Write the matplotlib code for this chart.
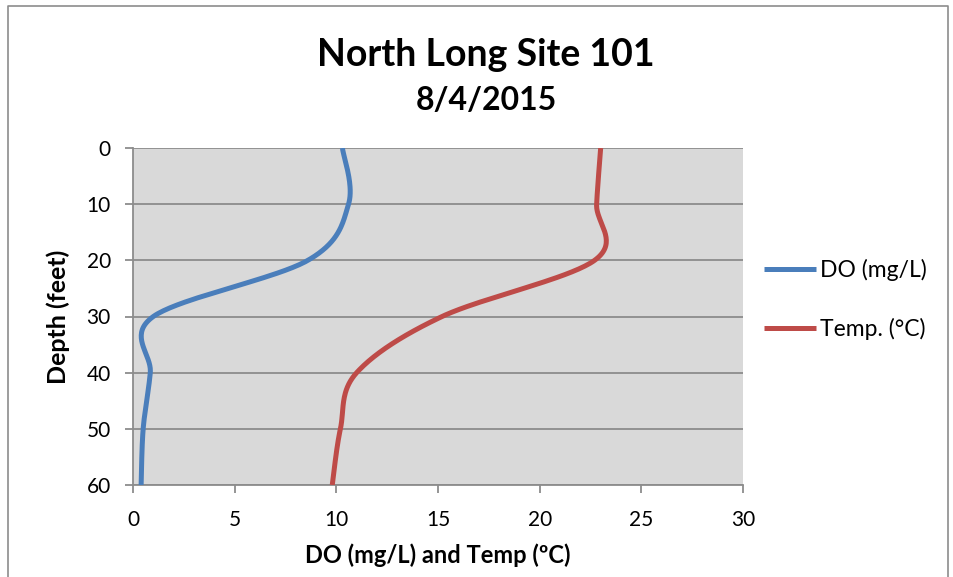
import numpy as np
import matplotlib
matplotlib.use('Agg')
import matplotlib.pyplot as plt
from matplotlib.lines import Line2D

plt.rcParams['font.family'] = ['Lato', 'DejaVu Sans']

depth = [0, 10, 20, 30, 40, 50, 60]
do_mgl = [10.3, 10.6, 8.6, 1.0, 0.85, 0.5, 0.4]
temp_c = [23.0, 22.8, 22.7, 15.2, 11.0, 10.2, 9.8]

xticks = [0, 5, 10, 15, 20, 25, 30]
yticks = [0, 10, 20, 30, 40, 50, 60]


def smooth(xs, ys, n=40):
    # excel style smoothed line (bezier through the points)
    p = np.column_stack([xs, ys]).astype(float)
    p = np.vstack([p[0], p, p[-1]])
    out = []
    t = np.linspace(0, 1, n)[:, None]
    for i in range(1, len(p) - 2):
        a, b = p[i], p[i + 1]
        c1 = a + (p[i + 1] - p[i - 1]) / 6
        c2 = b - (p[i + 2] - p[i]) / 6
        seg = (1 - t) ** 3 * a + 3 * (1 - t) ** 2 * t * c1 + 3 * (1 - t) * t ** 2 * c2 + t ** 3 * b
        out.append(seg if i == 1 else seg[1:])
    out = np.vstack(out)
    return out[:, 0], out[:, 1]


fig = plt.figure(figsize=(9.54, 5.77), dpi=100)
ax = fig.add_axes([133 / 954, 1 - 485 / 577, 610 / 954, 337 / 577])
ax.set_facecolor('#D9D9D9')

# outer chart frame
fig.add_artist(Line2D([8 / 954, 8 / 954, 948 / 954, 948 / 954], [0, 1 - 6 / 577, 1 - 6 / 577, 0],
                      transform=fig.transFigure, color='#8C8C8C', lw=1.2))

gx, gy = smooth(do_mgl, depth)
ax.plot(gx, gy, color='#4A7EBB', lw=3.6, solid_capstyle='butt', label='DO (mg/L)', zorder=3)
tx, ty = smooth(temp_c, depth)
ax.plot(tx, ty, color='#BE4B48', lw=3.6, solid_capstyle='butt', label='Temp. (°C)', zorder=3)

ax.set_xlim(0, 30)
ax.set_ylim(60, 0)
ax.set_xticks(xticks)
ax.set_yticks(yticks)
ax.grid(axis='y', color='#8C8C8C', lw=1.3)
ax.set_axisbelow(True)
for s in ['top', 'right']:
    ax.spines[s].set_visible(False)
for s in ['left', 'bottom']:
    ax.spines[s].set_color('#8C8C8C')
    ax.spines[s].set_linewidth(1.3)
ax.tick_params(axis='both', colors='#8C8C8C', labelcolor='black', labelsize=15, length=6, width=1.3)
ax.tick_params(axis='x', pad=12)
ax.tick_params(axis='y', pad=10)

ax.set_xlabel('DO (mg/L) and Temp (ºC)', fontsize=17, fontweight='bold', labelpad=10)
ax.set_ylabel('Depth (feet)', fontsize=18, fontweight='bold', labelpad=12)

fig.text(486 / 954, 1 - 55 / 577, 'North Long Site 101', ha='center', va='center',
         fontsize=27, fontweight='bold')
fig.text(486 / 954, 1 - 101 / 577, '8/4/2015', ha='center', va='center',
         fontsize=23, fontweight='bold')

ax.legend(loc='center left', bbox_to_anchor=(1.0, 0.55), frameon=False, fontsize=16.5,
          handlelength=2.3, handletextpad=0.15, labelspacing=1.6)

fig.savefig('out.png', dpi=100)
